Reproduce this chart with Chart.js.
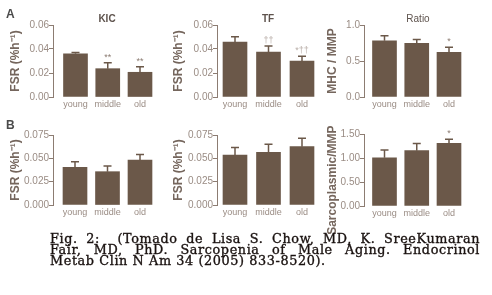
<!DOCTYPE html>
<html lang="es">
<head>
<meta charset="UTF-8">
<title>Fig. 2 - Sarcopenia</title>
<script src="https://cdn.jsdelivr.net/npm/chart.js"></script>
<style>
  body { margin: 0; background: #fff; width: 492px; height: 295px; overflow: hidden; position: relative; }
  canvas { position: absolute; }
  .lbl { position: absolute; font-family: "Liberation Sans", Arial, sans-serif; color: #5e534d; }
  .cap { position: absolute; left: 50px; width: 430px; font-family: "DejaVu Serif", serif; font-size: 12.8px;
         letter-spacing: 0.6px; line-height: 11px; color: #1a1210; white-space: nowrap;
         -webkit-text-stroke: 0.35px #1a1210; }
  .just { text-align: justify; text-align-last: justify; }
</style>
</head>
<body>
<canvas id="a1" width="162" height="114" style="left:0;top:0"></canvas>
<canvas id="a2" width="160" height="114" style="left:162px;top:0"></canvas>
<canvas id="a3" width="170" height="114" style="left:322px;top:0"></canvas>
<canvas id="b1" width="162" height="130" style="left:0;top:110px"></canvas>
<canvas id="b2" width="160" height="130" style="left:162px;top:110px"></canvas>
<canvas id="b3" width="170" height="130" style="left:322px;top:110px"></canvas>

<div class="lbl" style="left:6px;top:7px;font-size:12px;font-weight:bold;color:#4a4a4a">A</div>
<div class="lbl" style="left:6px;top:118px;font-size:12px;font-weight:bold;color:#4a4a4a">B</div>
<div class="lbl" style="left:107px;top:13px;font-size:10px;font-weight:bold;transform:translateX(-50%)">KIC</div>
<div class="lbl" style="left:268px;top:13px;font-size:10px;font-weight:bold;transform:translateX(-50%)">TF</div>
<div class="lbl" style="left:418px;top:13px;font-size:10px;transform:translateX(-50%)">Ratio</div>

<div class="cap just" style="top:233px">Fig. 2:&nbsp; (Tomado de Lisa S. Chow, MD, K. SreeKumaran</div>
<div class="cap just" style="top:244px">Fair, MD, PhD. Sarcopenia of Male Aging. Endocrinol</div>
<div class="cap" style="top:255px">Metab Clin N Am 34 (2005) 833-8520).</div>

<script>
// ---------------- datos ----------------
const groups = ['young', 'middle', 'old'];

// A: KIC, TF (FSR %h-1) y ratio MHC/MMP
const kicFsr = [0.036, 0.0236, 0.0206];
const kicErr = [0.001, 0.005, 0.0047];
const kicMarks = ['', '**', '**'];

const tfFsr = [0.0458, 0.0375, 0.030];
const tfErr = [0.0045, 0.005, 0.004];
const tfMarks = ['', '††', '*††'];

const ratioA = [0.78, 0.745, 0.62];
const ratioAErr = [0.07, 0.055, 0.07];
const ratioAMarks = ['', '', '*'];

// B: FSR y ratio sarcoplasmic/MMP
const kicFsrB = [0.0404, 0.0357, 0.0482];
const kicErrB = [0.006, 0.006, 0.006];

const tfFsrB = [0.0536, 0.0565, 0.0625];
const tfErrB = [0.008, 0.0085, 0.009];

const ratioB = [1.01, 1.157, 1.31];
const ratioBErr = [0.16, 0.15, 0.085];
const ratioBMarks = ['', '', '*'];

// ticks
const ticksFsrA = [0, 0.02, 0.04, 0.06];
const ticksFsrALabels = ['0.00', '0.02', '0.04', '0.06'];
const ticksRatioA = [0, 0.5, 1.0];
const ticksRatioALabels = ['0.0', '0.5', '1.0'];
const ticksFsrB = [0, 0.025, 0.05, 0.075];
const ticksFsrBLabels = ['0.000', '0.025', '0.050', '0.075'];
const ticksRatioB = [0, 0.5, 1.0, 1.5];
const ticksRatioBLabels = ['0.00', '0.50', '1.00', '1.50'];

// ---------------- estilo ----------------
const BAR = '#6b5849';
const AXIS = '#8c7c72';
const TICK = '#9a8c84';
const TITLE = '#75665d';
const SANS = '"Liberation Sans", Arial, sans-serif';

// barras de error (solo hacia arriba) y asteriscos
const errorBars = {
  id: 'errorBars',
  afterDatasetsDraw(chart) {
    const ds = chart.data.datasets[0];
    const meta = chart.getDatasetMeta(0);
    const y = chart.scales.y;
    const ctx = chart.ctx;
    ctx.save();
    meta.data.forEach((bar, i) => {
      const top = y.getPixelForValue(ds.data[i].y + ds.errors[i]);
      ctx.strokeStyle = BAR;
      ctx.lineWidth = 1.5;
      ctx.beginPath();
      ctx.moveTo(bar.x, bar.y);
      ctx.lineTo(bar.x, top);
      ctx.moveTo(bar.x - 4, top);
      ctx.lineTo(bar.x + 4, top);
      ctx.stroke();
      const m = ds.marks ? ds.marks[i] : '';
      if (m) {
        ctx.fillStyle = m.includes('†') ? '#b9aea8' : AXIS;
        ctx.font = '9px ' + SANS;
        ctx.textAlign = 'center';
        ctx.textBaseline = 'bottom';
        ctx.fillText(m, bar.x, top - 1);
      }
    });
    ctx.restore();
  }
};

// geometria: [eje x px, area top, area bottom, area right, centro de la 1a barra, separacion] (coords del canvas)
function makeChart(id, lay, values, errors, marks, ticks, tickLabels, yTitle, titlePad) {
  const canvas = document.getElementById(id);
  const [axisX, areaTop, areaBottom, areaRight, firstC, step] = lay;
  const xMin = -(firstC - axisX) / step;
  const xMax = xMin + (areaRight - axisX) / step;
  new Chart(canvas, {
    type: 'bar',
    data: {
      datasets: [{
        data: values.map((v, i) => ({ x: i, y: v })),
        errors: errors,
        marks: marks,
        backgroundColor: BAR,
        barThickness: 24
      }]
    },
    options: {
      responsive: false,
      animation: false,
      events: [],
      layout: { padding: { top: areaTop, right: canvas.width - areaRight, bottom: 0, left: 0 } },
      plugins: { legend: { display: false }, tooltip: { enabled: false } },
      scales: {
        x: {
          type: 'linear',
          offset: false,
          min: xMin,
          max: xMax,
          grid: { display: false, drawTicks: false },
          border: { display: false },
          afterBuildTicks: s => { s.ticks = groups.map((g, i) => ({ value: i })); },
          afterFit: s => { s.height = canvas.height - areaBottom; },
          ticks: {
            callback: v => groups[v],
            color: TICK,
            font: { family: SANS, size: 9 },
            padding: 2,
            maxRotation: 0,
            autoSkip: false
          }
        },
        y: {
          min: 0,
          max: ticks[ticks.length - 1],
          afterBuildTicks: s => { s.ticks = ticks.map(v => ({ value: v })); },
          afterFit: s => { s.width = axisX; },
          grid: { drawOnChartArea: false, drawTicks: true, tickLength: 4, color: AXIS },
          border: { display: true, color: AXIS, width: 1 },
          ticks: {
            callback: (v, i) => tickLabels[i],
            color: TICK,
            font: { family: SANS, size: 10 },
            padding: 0
          },
          title: {
            display: true,
            text: yTitle,
            color: TITLE,
            font: { family: SANS, size: 12, weight: 'bold' },
            padding: { top: titlePad, bottom: 0 }
          }
        }
      }
    },
    plugins: [errorBars]
  });
}

makeChart('a1', [53, 25, 97, 160, 75.5, 32.25], kicFsr, kicErr, kicMarks, ticksFsrA, ticksFsrALabels, 'FSR (%h⁻¹)', 8);
makeChart('a2', [55, 25, 97, 158, 73, 33.5], tfFsr, tfErr, tfMarks, ticksFsrA, ticksFsrALabels, 'FSR (%h⁻¹)', 9);
makeChart('a3', [42, 25, 97, 148, 62.5, 32.25], ratioA, ratioAErr, ratioAMarks, ticksRatioA, ticksRatioALabels, 'MHC / MMP', 3);
makeChart('b1', [53, 25, 95, 160, 75, 32.5], kicFsrB, kicErrB, [], ticksFsrB, ticksFsrBLabels, 'FSR (%h⁻¹)', 8);
makeChart('b2', [55, 25, 95, 158, 73, 33.5], tfFsrB, tfErrB, [], ticksFsrB, ticksFsrBLabels, 'FSR (%h⁻¹)', 9);
makeChart('b3', [42, 24.3, 96, 148, 62.5, 32.25], ratioB, ratioBErr, ratioBMarks, ticksRatioB, ticksRatioBLabels, 'Sarcoplasmic/MMP      ', 3);
</script>
</body>
</html>
